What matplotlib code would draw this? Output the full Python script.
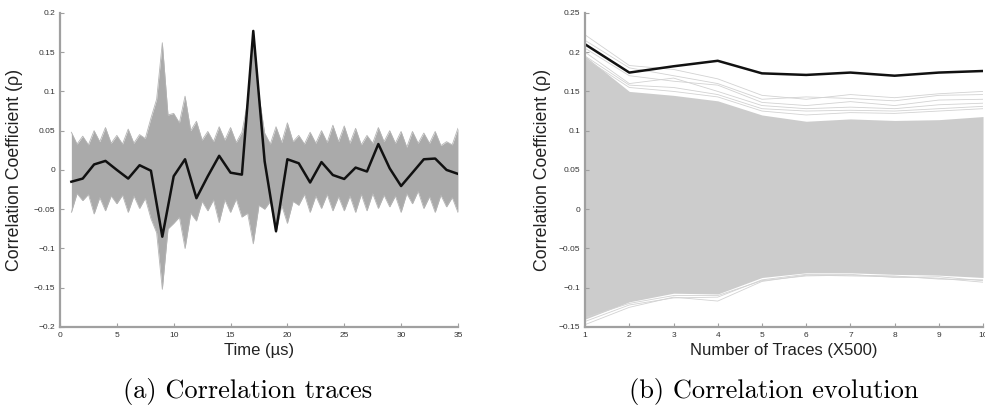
"""Correlation traces over time and correlation evolution vs. number of traces."""

import numpy as np
import matplotlib.pyplot as plt
from matplotlib.ticker import FuncFormatter

# (a) correlation traces: correct key guess and envelope of all wrong guesses
TIME_US = list(range(1, 36))
CORRECT_TRACE = [-0.015, -0.011, 0.007, 0.0115, 0.0, -0.011, 0.006, -0.001, -0.085, -0.008,
                 0.0136, -0.036, -0.008, 0.018, -0.0035, -0.006, 0.177, 0.011, -0.078, 0.0136,
                 0.0085, -0.016, 0.010, -0.0065, -0.0115, 0.003, -0.002, 0.033, 0.002, -0.0205,
                 -0.0035, 0.0136, 0.0145, 0.0, -0.005]
UPPER_PEAK = [0.048, 0.043, 0.050, 0.054, 0.044, 0.052, 0.045, 0.066, 0.162, 0.072,
              0.094, 0.062, 0.049, 0.055, 0.054, 0.048, 0.178, 0.047, 0.055, 0.060,
              0.044, 0.048, 0.050, 0.057, 0.056, 0.053, 0.044, 0.054, 0.050, 0.049,
              0.049, 0.047, 0.049, 0.036, 0.053]
UPPER_DIP = [0.033, 0.032, 0.036, 0.034, 0.033, 0.034, 0.040, 0.090, 0.070, 0.060,
             0.050, 0.038, 0.036, 0.038, 0.035, 0.086, 0.095, 0.033, 0.035, 0.036,
             0.033, 0.034, 0.035, 0.036, 0.034, 0.032, 0.034, 0.036, 0.034, 0.029,
             0.034, 0.034, 0.031, 0.032]
LOWER_PEAK = [-0.054, -0.039, -0.056, -0.052, -0.043, -0.054, -0.049, -0.062, -0.152, -0.068,
              -0.100, -0.065, -0.052, -0.067, -0.054, -0.060, -0.094, -0.050, -0.080, -0.068,
              -0.045, -0.054, -0.049, -0.052, -0.052, -0.054, -0.052, -0.049, -0.047, -0.054,
              -0.043, -0.049, -0.054, -0.047, -0.054]
LOWER_DIP = [-0.030, -0.031, -0.035, -0.033, -0.032, -0.033, -0.036, -0.080, -0.075, -0.060,
             -0.055, -0.040, -0.038, -0.038, -0.037, -0.055, -0.045, -0.040, -0.045, -0.040,
             -0.031, -0.033, -0.031, -0.034, -0.033, -0.031, -0.030, -0.032, -0.033, -0.030,
             -0.027, -0.034, -0.032, -0.035]

# (b) correlation evolution: correct key vs. band of wrong keys
N_TRACES = list(range(1, 11))
CORRECT_EVOLUTION = [0.210, 0.174, 0.182, 0.189, 0.173, 0.171, 0.174, 0.170, 0.174, 0.176]
BAND_UPPER = [0.195, 0.150, 0.145, 0.138, 0.120, 0.112, 0.115, 0.113, 0.114, 0.118]
BAND_LOWER = [-0.140, -0.118, -0.107, -0.108, -0.087, -0.081, -0.081, -0.083, -0.084, -0.087]
OUTLIERS_HIGH = [
    [0.222, 0.183, 0.178, 0.166, 0.145, 0.140, 0.146, 0.142, 0.147, 0.150],
    [0.215, 0.180, 0.170, 0.160, 0.140, 0.143, 0.141, 0.138, 0.145, 0.146],
    [0.205, 0.170, 0.163, 0.158, 0.136, 0.132, 0.137, 0.132, 0.139, 0.140],
    [0.200, 0.160, 0.167, 0.150, 0.132, 0.128, 0.130, 0.128, 0.133, 0.135],
    [0.195, 0.158, 0.155, 0.146, 0.128, 0.125, 0.126, 0.125, 0.128, 0.131],
    [0.192, 0.155, 0.150, 0.143, 0.125, 0.120, 0.123, 0.122, 0.125, 0.128],
]
OUTLIERS_LOW = [
    [-0.147, -0.125, -0.112, -0.117, -0.092, -0.084, -0.085, -0.086, -0.088, -0.093],
    [-0.143, -0.122, -0.113, -0.112, -0.090, -0.083, -0.083, -0.087, -0.086, -0.091],
    [-0.138, -0.120, -0.110, -0.110, -0.091, -0.085, -0.084, -0.085, -0.089, -0.090],
]

AXIS_GREY = "#a0a0a0"
LABEL_FONT = ["Liberation Sans", "DejaVu Sans"]
NARROW_FONT = ["Liberation Sans Narrow", "Liberation Sans", "DejaVu Sans"]


def interleave(peaks, dips):
    out = np.empty(len(peaks) + len(dips))
    out[0::2] = peaks
    out[1::2] = dips
    return out


def matlab_tick(v, _):
    v = round(v, 4)
    if v == 0:
        return "0"
    return f"{v:g}".replace("-", "\u2212")


def style_axes(ax):
    for side in ("top", "right"):
        ax.spines[side].set_visible(False)
    for side in ("left", "bottom"):
        ax.spines[side].set_color(AXIS_GREY)
        ax.spines[side].set_linewidth(1.6)
    ax.tick_params(direction="in", length=3, width=0.8, color=AXIS_GREY,
                   labelcolor="#333333", labelsize=6)
    ax.yaxis.set_major_formatter(FuncFormatter(matlab_tick))
    for lbl in ax.get_xticklabels():
        lbl.set_family(NARROW_FONT)
    for lbl in ax.get_yticklabels():
        lbl.set_family(LABEL_FONT)


fig = plt.figure(figsize=(9.85, 4.16), dpi=100)

# (a) Correlation traces
ax1 = fig.add_axes([0.0609, 0.214, 0.404, 0.755])
t = np.array(TIME_US, dtype=float)
t_env = interleave(t, t[:-1] + 0.5)
ax1.fill_between(t_env, interleave(LOWER_PEAK, LOWER_DIP), interleave(UPPER_PEAK, UPPER_DIP),
                 color="#aaaaaa", linewidth=0)
ax1.plot(t_env, interleave(UPPER_PEAK, UPPER_DIP), color="#b4b4b4", lw=0.6)
ax1.plot(t_env, interleave(LOWER_PEAK, LOWER_DIP), color="#b4b4b4", lw=0.6)
ax1.plot(TIME_US, CORRECT_TRACE, color="#111111", lw=1.8)
ax1.set_xlim(0, 35)
ax1.set_ylim(-0.2, 0.2)
ax1.set_xticks(range(0, 36, 5))
ax1.set_yticks(np.arange(-0.2, 0.201, 0.05))
style_axes(ax1)
ax1.set_xlabel("Time (µs)", fontsize=12, family=NARROW_FONT, color="#222222")
ax1.set_ylabel("Correlation Coefficient (ρ)", fontsize=12.8, family=LABEL_FONT, color="#222222")
ax1.xaxis.set_label_coords(0.5, -0.05)
ax1.yaxis.set_label_coords(-0.093, 0.5)

# (b) Correlation evolution
ax2 = fig.add_axes([0.594, 0.214, 0.404, 0.755])
ax2.fill_between(N_TRACES, BAND_LOWER, BAND_UPPER, color="#cccccc", linewidth=0)
for trace in OUTLIERS_HIGH + OUTLIERS_LOW:
    ax2.plot(N_TRACES, trace, color="#d2d2d2", lw=0.6)
ax2.plot(N_TRACES, CORRECT_EVOLUTION, color="#111111", lw=1.8)
ax2.set_xlim(1, 10)
ax2.set_ylim(-0.15, 0.25)
ax2.set_xticks(N_TRACES)
ax2.set_yticks(np.arange(-0.15, 0.251, 0.05))
style_axes(ax2)
ax2.set_xlabel("Number of Traces (X500)", fontsize=12, family=NARROW_FONT, color="#222222")
ax2.set_ylabel("Correlation Coefficient (ρ)", fontsize=12.8, family=LABEL_FONT, color="#222222")
ax2.xaxis.set_label_coords(0.5, -0.05)
ax2.yaxis.set_label_coords(-0.085, 0.5)

# subfigure captions
fig.text(0.251, 0.058, "(a) Correlation traces", ha="center", va="center",
         fontsize=19, family="cmr10")
fig.text(0.786, 0.058, "(b) Correlation evolution", ha="center", va="center",
         fontsize=19, family="cmr10")

fig.savefig("out.png", dpi=100)
